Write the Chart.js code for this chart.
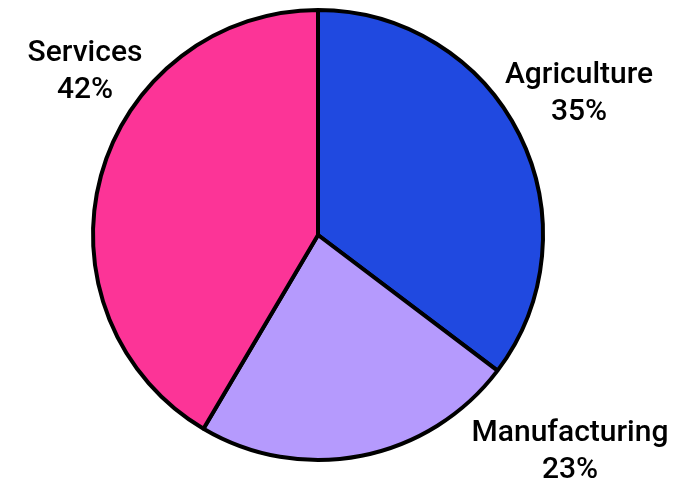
<!DOCTYPE html>
<html>
<head>
<meta charset="utf-8">
<script src="https://cdn.jsdelivr.net/npm/chart.js@4"></script>
<style>
html,body{margin:0;padding:0;background:#fff;}
#wrap{width:694px;height:488px;}
</style>
</head>
<body>
<div id="wrap"><canvas id="c" width="694" height="488"></canvas></div>
<script>
const categories = ["Agriculture", "Manufacturing", "Services"];
const shares = [35.3, 23.2, 41.5];
const sliceColors = ["#2049E0", "#B59AFD", "#FC3497"];

// label block centre offsets relative to pie centre (layout only)
const labelOffsets = [[261, -141], [252, 217], [-233, -163]];

const outsideLabels = {
  id: 'outsideLabels',
  afterDraw(chart) {
    const ctx = chart.ctx;
    const meta = chart.getDatasetMeta(0);
    const arc0 = meta.data[0];
    const cx = arc0.x, cy = arc0.y;
    const total = shares.reduce((a, b) => a + b, 0);
    ctx.save();
    ctx.fillStyle = '#000';
    ctx.font = '500 30px Roboto';
    ctx.textAlign = 'center';
    ctx.textBaseline = 'middle';
    const lh = 37;
    categories.forEach((cat, i) => {
      const [dx, dy] = labelOffsets[i];
      const x = cx + dx, y = cy + dy;
      ctx.fillText(cat, x, y - lh / 2);
      ctx.fillText(Math.round(shares[i] / total * 100) + '%', x, y + lh / 2);
    });
    ctx.restore();
  }
};

new Chart(document.getElementById('c'), {
  type: 'pie',
  data: {
    labels: categories,
    datasets: [{
      data: shares,
      backgroundColor: sliceColors,
      borderColor: '#000',
      borderWidth: 4
    }]
  },
  options: {
    responsive: false,
    animation: false,
    radius: 225,
    layout: { padding: { left: 0, right: 58, top: 0, bottom: 18 } },
    plugins: { legend: { display: false }, tooltip: { enabled: false } }
  },
  plugins: [outsideLabels]
});
</script>
</body>
</html>
